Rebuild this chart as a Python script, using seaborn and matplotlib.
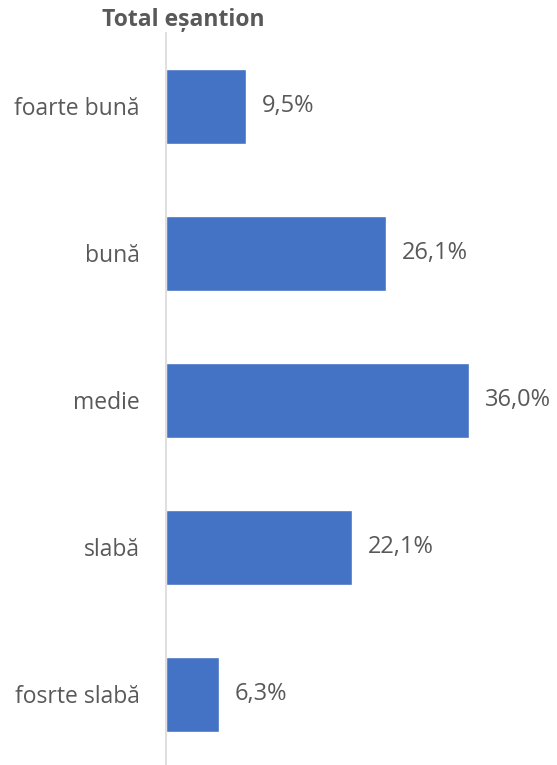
import matplotlib
matplotlib.use("Agg")
import matplotlib.pyplot as plt
import seaborn as sns
import pandas as pd

categories = ["foarte bună", "bună", "medie", "slabă", "fosrte slabă"]
values = [9.5, 26.1, 36.0, 22.1, 6.3]
labels = ["9,5%", "26,1%", "36,0%", "22,1%", "6,3%"]
title = "Total eșantion"

sns.set_theme(style="white")
plt.rcParams['font.family'] = ['Open Sans', 'DejaVu Sans']

df = pd.DataFrame({"cat": categories, "val": values})

fig = plt.figure(figsize=(5.57, 7.65), dpi=100)
ax = fig.add_axes([166/557, 0.0, (545-166)/557, (765-33)/765])
sns.barplot(data=df, x="val", y="cat", orient="h", color="#4472C4",
            saturation=1, width=0.51, ax=ax)
ax.set_xlim(0, 45)
ax.set_ylim(4.48, -0.5)
ax.set_xlabel("")
ax.set_ylabel("")
ax.set_xticks([])
for s in ["top", "right", "bottom"]:
    ax.spines[s].set_visible(False)
ax.spines["left"].set_color("#D9D9D9")
ax.spines["left"].set_linewidth(1.2)
ax.tick_params(axis="y", length=0, pad=19, labelsize=16.5, labelcolor="#595959")
for i, (v, l) in enumerate(zip(values, labels)):
    ax.text(v + 1.9, i, l, va="center", ha="left", fontsize=17, color="#595959")
fig.text(183/557, 1 - 20/765, title, ha="center", va="center", fontsize=16.5,
         fontweight="bold", color="#595959")
fig.savefig("out.png", dpi=100)
